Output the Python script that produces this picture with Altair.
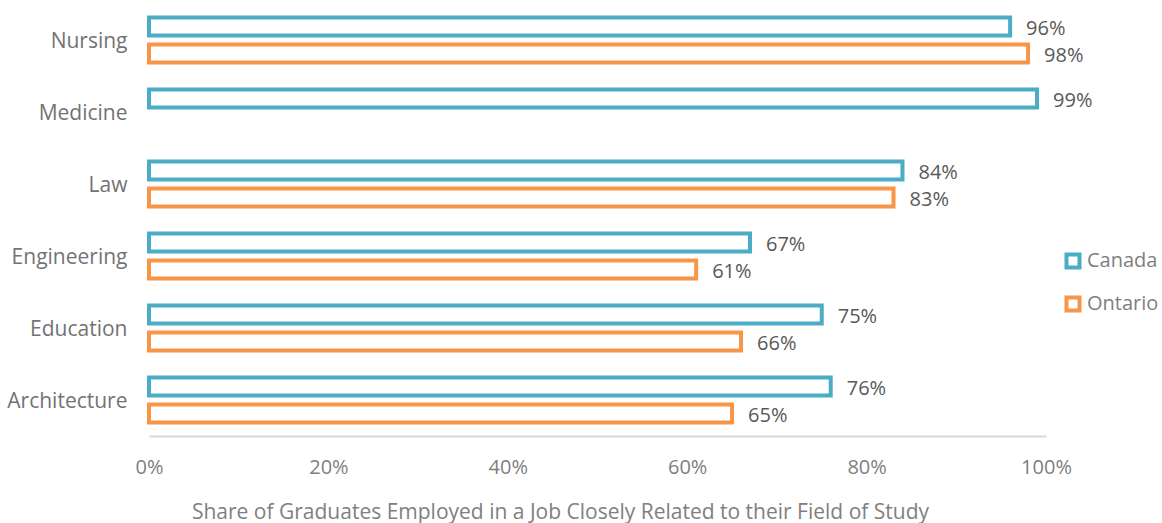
import altair as alt
import pandas as pd

categories = ["Nursing", "Medicine", "Law", "Engineering", "Education", "Architecture"]
canada = [96, 99, 84, 67, 75, 76]
ontario = [98, None, 83, 61, 66, 65]
series = ["Canada", "Ontario"]
colors = ["#4bacc6", "#f79646"]
x_ticks = [0, 20, 40, 60, 80, 100]

rows = []
for c, v in zip(categories, canada):
    rows.append({"field": c, "series": "Canada", "value": v})
for c, v in zip(categories, ontario):
    if v is not None:
        rows.append({"field": c, "series": "Ontario", "value": v})
df = pd.DataFrame(rows)
df["label"] = df["value"].astype(int).astype(str) + "%"

FONT = "Open Sans"

y_enc = alt.Y("field:N", sort=categories,
              scale=alt.Scale(paddingInner=0, paddingOuter=0),
              axis=alt.Axis(title=None, domain=False, ticks=False, grid=False, labelPadding=22,
                            labelOffset=2,
                            labelFontSize=21, labelColor="#737373", labelFont=FONT))
yoff = alt.YOffset("series:N", scale=alt.Scale(domain=series, paddingInner=1/3, paddingOuter=0.5))
x_enc = alt.X("value:Q", scale=alt.Scale(domain=[0, 100], nice=False),
              axis=alt.Axis(values=x_ticks, labelExpr="datum.value + '%'", grid=False,
                            ticks=False, domainColor="#d9d9d9", domainWidth=2,
                            labelFlush=False,
                            labelFontSize=20, labelColor="#808080", labelFont=FONT,
                            labelPadding=21,
                            title="Share of Graduates Employed in a Job Closely Related to their Field of Study",
                            titleFontSize=21, titleColor="#808080", titleFont=FONT,
                            titleFontWeight="normal", titlePadding=24,
                            titleX=411, titleAlign="center"))

bars = alt.Chart(df).mark_bar(fill="white", strokeWidth=4).encode(
    x=x_enc,
    y=y_enc,
    yOffset=yoff,
    stroke=alt.Stroke("series:N", scale=alt.Scale(domain=series, range=colors),
                      legend=alt.Legend(title=None, orient="none", legendX=914, legendY=247,
                                        symbolType="square", symbolSize=170,
                                        symbolFillColor="white", symbolStrokeWidth=4,
                                        labelFontSize=20, labelColor="#7f7f7f", labelFont=FONT,
                                        rowPadding=13, labelOffset=4)),
)

labels = alt.Chart(df).mark_text(align="left", baseline="middle", dx=16, dy=2, fontSize=20,
                                 color="#595959", font=FONT).encode(
    x=alt.X("value:Q"),
    y=alt.Y("field:N", sort=categories),
    yOffset=alt.YOffset("series:N"),
    text="label:N",
)

chart = (bars + labels).properties(
    width=897, height=432,
    background="white",
    autosize=alt.AutoSizeParams(type="none"),
    padding={"left": 149, "top": 4, "right": 116, "bottom": 87},
).configure_view(stroke=None).configure_axis(grid=False)

chart.save("out.html", embed_options={"renderer": "svg", "actions": False})
